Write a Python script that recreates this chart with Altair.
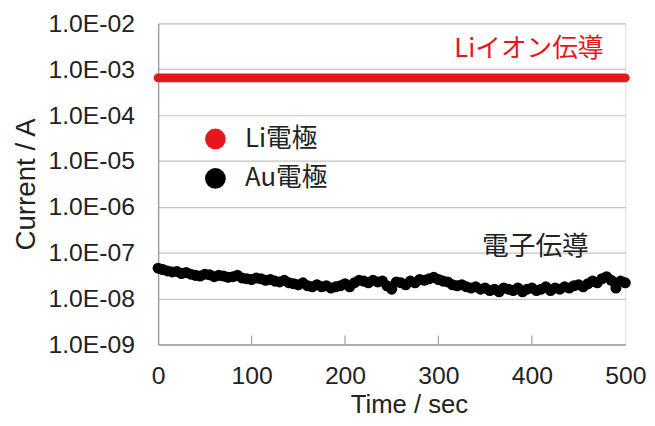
import altair as alt
import pandas as pd

# ---- data ----
time_sec = [0, 5, 10, 15, 20, 25, 30, 35, 40, 45, 50, 55, 60, 65, 70, 75, 80, 85, 90, 95,
            100, 105, 110, 115, 120, 125, 130, 135, 140, 145, 150, 155, 160, 165, 170, 175,
            180, 185, 190, 195, 200, 205, 210, 215, 220, 225, 230, 235, 240, 245, 250, 255,
            260, 265, 270, 275, 280, 285, 290, 295, 300, 305, 310, 315, 320, 325, 330, 335,
            340, 345, 350, 355, 360, 365, 370, 375, 380, 385, 390, 395, 400, 405, 410, 415,
            420, 425, 430, 435, 440, 445, 450, 455, 460, 465, 470, 475, 480, 485, 490, 495, 500]
au_current_e8 = [4.6, 4.3, 4.0, 3.8, 3.9, 3.5, 3.7, 3.4, 3.2, 3.1, 3.4, 3.3, 3.0, 3.2, 3.1, 2.9, 3.0, 3.2, 2.8, 2.7,
                 2.6, 2.8, 2.7, 2.5, 2.6, 2.4, 2.3, 2.5, 2.2, 2.1, 2.0, 2.2, 1.9, 1.8, 2.0, 1.8,
                 1.9, 1.7, 1.8, 1.9, 2.1, 1.8, 2.2, 2.5, 2.4, 2.2, 2.5, 2.3, 2.4, 1.9, 1.6, 2.3,
                 2.2, 2.0, 2.4, 2.2, 2.6, 2.5, 2.7, 2.9, 2.6, 2.4, 2.3, 2.0, 1.9, 2.0, 1.8, 1.7,
                 1.8, 1.6, 1.7, 1.5, 1.6, 1.4, 1.7, 1.6, 1.5, 1.7, 1.4, 1.6, 1.7, 1.5, 1.6, 1.8,
                 1.5, 1.7, 1.6, 1.8, 1.7, 1.9, 2.0, 1.8, 2.1, 2.4, 2.2, 2.7, 3.0, 2.5, 1.7, 2.4, 2.2]
li_time = [0, 500]
li_current = [6.5e-4, 6.5e-4]

series_names = ["Li電極", "Au電極"]
series_colors = ["#e5161c", "#000000"]
y_ticks = [1e-2, 1e-3, 1e-4, 1e-5, 1e-6, 1e-7, 1e-8, 1e-9]
x_ticks = [0, 100, 200, 300, 400, 500]
x_inner_ticks = [100, 200, 300, 400]

au_df = pd.DataFrame({"t": time_sec, "I": [v * 1e-8 for v in au_current_e8], "series": "Au電極"})
li_df = pd.DataFrame({"t": li_time, "I": li_current})
tick_df = pd.DataFrame({"t": x_inner_ticks})

W, H = 473, 325
FONT = "Liberation Sans"
JFONT = "Noto Sans CJK JP"
TXT = "#222222"

xscale = alt.Scale(domain=[0, 500], nice=False)
yscale = alt.Scale(type="log", domain=[1e-9, 1e-2], nice=False)

x_enc = alt.X("t:Q", scale=xscale, axis=alt.Axis(
    values=x_ticks, title="Time / sec", grid=False, ticks=False, labelFlush=False,
    domainColor="#a0a0a0", domainWidth=1.5,
    labelFont=FONT, labelFontSize=25, labelColor=TXT, labelPadding=20,
    titleFont=FONT, titleFontSize=26, titleFontWeight="normal", titleColor=TXT,
    titlePadding=3, titleX=254))
y_enc = alt.Y("I:Q", scale=yscale, axis=alt.Axis(
    values=y_ticks, title="Current / A", grid=True, gridColor="#c4c4c4", gridWidth=1.2,
    ticks=False, domainColor="#a0a0a0", domainWidth=1.5, labelFlush=False,
    labelExpr="'1.0E-0' + round(-log(datum.value) / LN10)",
    labelFont=FONT, labelFontSize=25, labelColor=TXT, labelPadding=24,
    titleFont=FONT, titleFontSize=28, titleFontWeight="normal", titleColor=TXT,
    titlePadding=8))

color_enc = alt.Color("series:N", scale=alt.Scale(domain=series_names, range=series_colors),
                      legend=alt.Legend(
                          title=None, orient="none", legendX=45, legendY=104,
                          symbolType="circle", symbolSize=441, symbolStrokeWidth=0,
                          symbolOpacity=1, rowPadding=14, labelOffset=17, padding=0,
                          labelFont=JFONT, labelFontSize=26, labelColor=TXT,
                          values=series_names))

points = alt.Chart(au_df).mark_circle(size=125, opacity=1).encode(x=x_enc, y=y_enc, color=color_enc)

li_line = alt.Chart(li_df).mark_line(color="#e5161c", strokeWidth=9, strokeCap="round").encode(
    x=alt.X("t:Q", scale=xscale), y=alt.Y("I:Q", scale=yscale))

inner_ticks = alt.Chart(tick_df).mark_rule(color="#a0a0a0", strokeWidth=1.2).encode(
    x=alt.X("t:Q", scale=xscale), y=alt.value(H - 9), y2=alt.value(H))

txt_li = alt.Chart(pd.DataFrame({"s": ["Liイオン伝導"]})).mark_text(
    font=JFONT, fontSize=26, color="#e5161c", align="right", baseline="middle").encode(
    text="s:N", x=alt.value(451), y=alt.value(26))

txt_e = alt.Chart(pd.DataFrame({"s": ["電子伝導"]})).mark_text(
    font=JFONT, fontSize=27, color=TXT, align="center", baseline="middle").encode(
    text="s:N", x=alt.value(382), y=alt.value(226))

chart = alt.layer(inner_ticks, li_line, points, txt_li, txt_e).properties(
    width=W, height=H,
    autosize=alt.AutoSizeParams(type="none"),
    padding={"left": 152, "top": 13, "right": 22, "bottom": 80},
).configure_view(stroke="#a0a0a0", strokeWidth=1.5).configure(background="white")

chart.save("out.html", embed_options={"renderer": "svg", "actions": False})
